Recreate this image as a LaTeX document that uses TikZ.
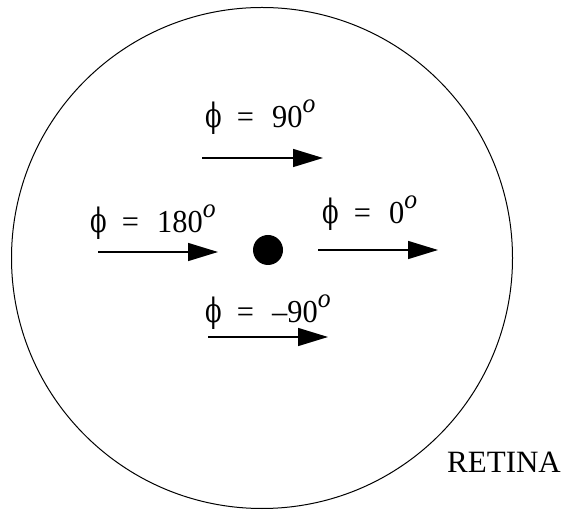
\documentclass[tikz,border=0pt]{standalone}
\usepackage{fontspec}
\setmainfont{Liberation Serif}
\newfontfamily\phifont{DejaVu Serif}
\usetikzlibrary{arrows.meta}
\newcommand\degsup{\raisebox{0.48em}{\fontsize{27}{27}\selectfont\itshape o}}
\newcommand\philab[1]{\scalebox{0.95}[1]{{\phifont\scalebox{0.8}[1.05]{ϕ}}\hspace{16pt}=\hspace{19pt}#1\degsup}}
\begin{document}
\begin{tikzpicture}[x=1pt,y=-1pt,
  lab/.style={anchor=base west,inner sep=0pt,font=\fontsize{32}{32}\selectfont},
  arr/.style={line width=1.4pt,-{Triangle[length=30pt,width=18pt]}}]
\useasboundingbox (0,0) rectangle (565,510);
\node[draw,circle,line width=1pt,minimum size=501pt,inner sep=0pt] (ret) at (262,258) {};
\node[fill,circle,minimum size=30pt,inner sep=0pt] (dot) at (268,250) {};
\coordinate (a90s) at (202,158); \coordinate (a90e) at (323,158);
\coordinate (a180s) at (98,252); \coordinate (a180e) at (218,252);
\coordinate (a0s) at (318,250); \coordinate (a0e) at (438,250);
\coordinate (am90s) at (208,337); \coordinate (am90e) at (328,337);
\draw[arr] (a90s) -- (a90e);
\draw[arr] (a180s) -- (a180e);
\draw[arr] (a0s) -- (a0e);
\draw[arr] (am90s) -- (am90e);
\node[lab] (l90) at (205,127.5) {\philab{90}};
\node[lab] (l180) at (90,232.7) {\philab{180}};
\node[lab] (l0) at (322,224) {\philab{0}};
\node[lab] (lm90) at (205,323) {\philab{–90}};
\node[anchor=base west,inner sep=0pt,font=\fontsize{31}{31}\selectfont] (retlab) at (447,472) {RETINA};
\end{tikzpicture}
\end{document}
